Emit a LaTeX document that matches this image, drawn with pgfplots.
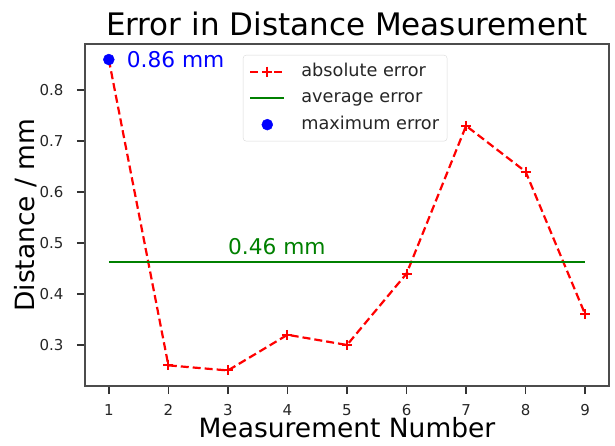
\documentclass[border=0pt]{standalone}
\usepackage{pgfplots}
\pgfplotsset{compat=1.18}
\usepackage{fontspec}
\setmainfont{DejaVu Sans}
\usetikzlibrary{calc}

\definecolor{mplred}{HTML}{FF0000}
\definecolor{mplgreen}{HTML}{008000}
\definecolor{mplblue}{HTML}{0000FF}

\pgfplotsset{
  legend line mark/.style={legend image code/.code={%
    \draw[##1, mark repeat=2, mark phase=2] plot coordinates {(0pt,0pt) (17pt,0pt) (34pt,0pt)};}},
  legend line only/.style={legend image code/.code={%
    \draw[##1] (0pt,0pt) -- (34pt,0pt);}},
  legend dot only/.style={legend image code/.code={%
    \draw[##1] plot coordinates {(17pt,0pt)};}},
}

\begin{document}
\begin{tikzpicture}
\begin{axis}[
  scale only axis, width=524pt, height=342pt,
  xmin=0.6, xmax=9.4, ymin=0.2195, ymax=0.8905,
  xtick={1,2,3,4,5,6,7,8,9},
  ytick={0.3,0.4,0.5,0.6,0.7,0.8},
  yticklabel style={/pgf/number format/.cd, fixed, fixed zerofill, precision=1},
  /pgf/number format/assume math mode=true,
  tick label style={font=\fontsize{15}{18}\selectfont, black!85},
  xtick pos=bottom, ytick pos=left, tick align=outside, major tick length=8pt,
  every tick/.style={black!80, line width=1.4pt},
  axis line style={black!70, line width=1.2pt},
  xticklabel shift=7pt, yticklabel shift=10pt,
  title={Error in Distance Measurement},
  title style={at={(axis description cs:0.5,1.006)}, anchor=base, font=\fontsize{31}{37}\selectfont},
  xlabel={Measurement Number},
  xlabel style={at={(axis description cs:0.5,-0.152)}, anchor=base, font=\fontsize{26.5}{32}\selectfont},
  ylabel={Distance / mm},
  ylabel style={at={(axis description cs:-0.0955,0.5)}, anchor=base, font=\fontsize{26.5}{32}\selectfont},
  legend cell align=left,
  legend style={at={(0.3015,0.968)}, anchor=north west, draw=black!15, rounded corners=3pt,
    fill=white, inner sep=6pt, column sep=14pt, row sep=5.5pt,
    font=\fontsize{17.7}{21}\selectfont, text=black!85,
    nodes={inner sep=2pt, text height=13pt, text depth=4pt}},
]
\addplot[mplred, line width=2.2pt, dash pattern=on 8pt off 4pt, mark=+, mark size=5pt,
  mark options={solid, line width=2pt}, legend line mark]
  coordinates {
  (1,0.86) (2,0.26) (3,0.25) (4,0.32) (5,0.30) (6,0.44) (7,0.73) (8,0.64) (9,0.36)
};
\addlegendentry{absolute error}
\addplot[mplgreen, line width=2.2pt, legend line only]
  coordinates {(1,0.4622) (9,0.4622)};
\addlegendentry{average error}
\addplot[only marks, mark=*, mplblue, mark size=5.5pt, mark options={draw=none}, legend dot only]
  coordinates {(1,0.86)};
\addlegendentry{maximum error}
\node[mplblue, anchor=west, inner sep=0pt, font=\fontsize{21.7}{26}\selectfont] at (axis cs:1.3,0.86) {0.86 mm};
\node[mplgreen, anchor=base west, inner sep=0pt, font=\fontsize{21.7}{26}\selectfont] at (axis cs:3,0.477) {0.46 mm};
\end{axis}
\pgfresetboundingbox
\path ($(current axis.south west)+(-85pt,-59pt)$) rectangle ($(current axis.north east)+(6pt,44pt)$);
\end{tikzpicture}
\end{document}
